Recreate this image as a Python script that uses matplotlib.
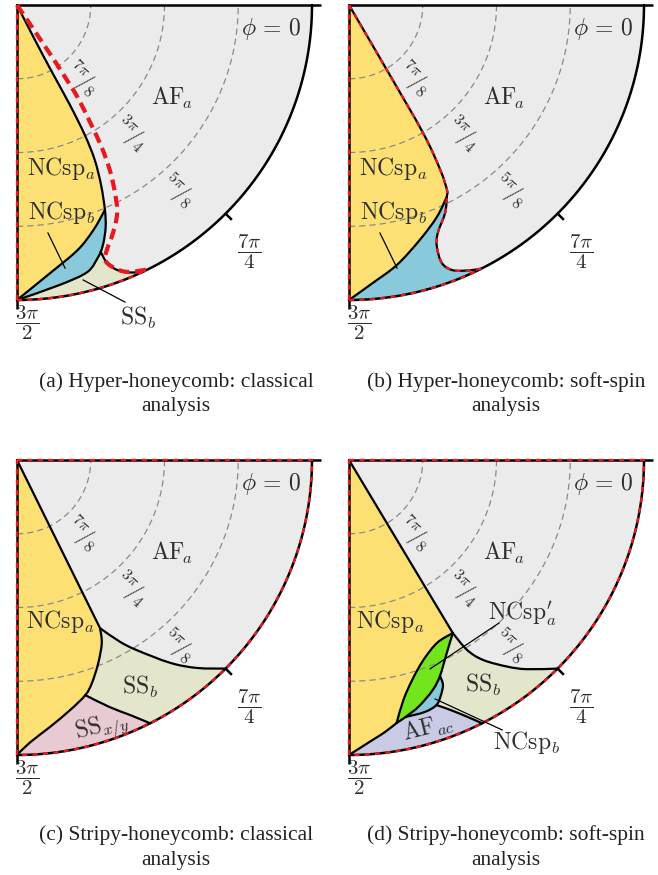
import numpy as np
import matplotlib
matplotlib.use("Agg")
import matplotlib.pyplot as plt
from matplotlib.patches import PathPatch
from matplotlib.path import Path

plt.rcParams['mathtext.fontset'] = 'cm'
plt.rcParams['font.family'] = ['Liberation Serif', 'DejaVu Serif']

# ---------------- data: boundary points as (phi/pi, theta/pi) ----------------
# (a) hyper-honeycomb, classical
a_af = [(1.651, 1.0), (1.651, 0.933), (1.653, 0.872), (1.655, 0.808), (1.653, 0.751),
        (1.648, 0.706), (1.639, 0.663), (1.629, 0.622), (1.621, 0.595), (1.611, 0.571),
        (1.604, 0.558)]
a_t1 = 7                       # NCsp_a / NCsp_b / AF_a triple point
a_ssb_af = [(1.604, 0.558), (1.607, 0.537), (1.615, 0.520), (1.627, 0.508), (1.641, 0.5)]
a_ncspa_ncspb = [(1.5, 0.5), (1.539, 0.542), (1.577, 0.572), (1.604, 0.597), (1.629, 0.622)]
a_ncspb_ssb = [(1.5, 0.5), (1.548, 0.520), (1.582, 0.532), (1.599, 0.551), (1.604, 0.558)]
# soft-spin boundary overlaid (thick red dashes) on the classical panel
a_soft = [(1.690, 1.0), (1.690, 0.942), (1.689, 0.893), (1.687, 0.851), (1.684, 0.807),
          (1.672, 0.727), (1.663, 0.679), (1.653, 0.641), (1.643, 0.609), (1.627, 0.581),
          (1.612, 0.558), (1.606, 0.543), (1.611, 0.528), (1.624, 0.511), (1.646, 0.5)]

# (b) hyper-honeycomb, soft-spin
b_af = [(1.668, 1.0), (1.668, 0.869), (1.667, 0.749), (1.661, 0.681), (1.655, 0.645),
        (1.650, 0.635), (1.638, 0.612), (1.618, 0.585), (1.611, 0.564), (1.610, 0.535),
        (1.619, 0.517), (1.636, 0.506), (1.648, 0.5)]
b_t2 = 5
b_ncspa_ncspb = [(1.5, 0.5), (1.527, 0.527), (1.558, 0.552), (1.593, 0.584), (1.625, 0.611),
                 (1.650, 0.635)]

# (c) stripy-honeycomb, classical
c_ncspa_af = [(1.646, 1.0), (1.646, 0.682)]
c_af_ssb = [(1.646, 0.682), (1.664, 0.646), (1.679, 0.619), (1.706, 0.569), (1.727, 0.534),
            (1.75, 0.5)]
c_ncspa_right = [(1.646, 0.682), (1.638, 0.658), (1.621, 0.629), (1.603, 0.601), (1.590, 0.585),
                 (1.567, 0.567), (1.539, 0.544), (1.514, 0.520), (1.5, 0.5)]
c_j = 4                        # NCsp_a / SS_b / SS_x/y junction
c_ssb_ssxy = [(1.590, 0.585), (1.614, 0.553), (1.633, 0.527), (1.649, 0.5)]

# (d) stripy-honeycomb, soft-spin
d_ncspa_af = [(1.672, 1.0), (1.672, 0.658)]
d_af_ssb = [(1.672, 0.658), (1.677, 0.621), (1.688, 0.592), (1.708, 0.559), (1.724, 0.535),
            (1.75, 0.5)]
d_green_left = [(1.672, 0.658), (1.643, 0.656), (1.613, 0.638), (1.589, 0.612), (1.571, 0.583),
                (1.557, 0.547)]
d_green_right = [(1.672, 0.658), (1.649, 0.633), (1.627, 0.603), (1.611, 0.585), (1.588, 0.566),
                 (1.569, 0.554), (1.557, 0.547)]
d_blue_on_green = 5            # where the NCsp_b pocket closes on the green lens
d_blue_bulge = [(1.627, 0.603), (1.626, 0.587), (1.618, 0.571), (1.609, 0.559), (1.593, 0.554),
                (1.569, 0.554)]
d_bulge_j = 3                  # AF_ac / SS_b / NCsp_b junction
d_afac_ssb = [(1.609, 0.559), (1.617, 0.550), (1.631, 0.531), (1.649, 0.5)]
d_ncspa_afac = [(1.5, 0.5), (1.527, 0.524), (1.542, 0.535), (1.557, 0.547)]

arc_thetas = [7 / 8, 3 / 4, 5 / 8]
arc_labels = [r"${}^{7\pi}\!/_{8}$", r"${}^{3\pi}\!/_{4}$", r"${}^{5\pi}\!/_{8}$"]
tick_phis = [1.5, 1.75, 2.0]
tick_labels = {1.5: r"$\dfrac{3\pi}{2}$", 1.75: r"$\dfrac{7\pi}{4}$"}
captions = ["(a) Hyper-honeycomb: classical", "(b) Hyper-honeycomb: soft-spin",
            "(c) Stripy-honeycomb: classical", "(d) Stripy-honeycomb: soft-spin"]

# colours
C_AF = '#ebebeb'
C_NCA = '#fde074'
C_NCB = '#88cadb'
C_SSB = '#e4e6cb'
C_SSXY = '#e8cad2'
C_GREEN = '#72e61c'
C_AFAC = '#c9cbe5'
C_RED = '#e8191e'
C_TXT = '#2e2e2e'


def to_xy(pts):
    a = np.asarray(pts, float)
    phi = a[:, 0] * np.pi
    rho = 2.0 * (1.0 - a[:, 1])
    return np.column_stack([rho * np.cos(phi), rho * np.sin(phi)])


def arc(p0, p1, theta=0.5, n=120):
    ph = np.linspace(p0, p1, n)
    return list(zip(ph, np.full(n, theta)))


def left_edge():
    return [(1.5, 0.5), (1.5, 1.0)]


def bezier_segments(pts):
    """Cubic Bezier segments (Catmull-Rom tangents) through the read points."""
    P = to_xy(pts)
    n = len(P)
    segs = []
    for i in range(n - 1):
        pm = P[max(i - 1, 0)]
        pp = P[min(i + 2, n - 1)]
        c1 = P[i] + (P[i + 1] - pm) / 6.0
        c2 = P[i + 1] - (pp - P[i]) / 6.0
        segs.append((P[i], c1, c2, P[i + 1]))
    return segs


def C(pts, a=0, b=None, reverse=False):
    return ('c', pts, a, b, reverse)


def L(pts):
    return ('l', pts)


def build_path(pieces, closed=False):
    verts, codes = [], []
    for pc in pieces:
        if pc[0] == 'c':
            _, pts, a, b, reverse = pc
            segs = bezier_segments(pts)[a:(len(pts) - 1 if b is None else b)]
            if reverse:
                segs = [(s[3], s[2], s[1], s[0]) for s in segs[::-1]]
            verts.append(segs[0][0])
            codes.append(Path.LINETO)
            for s in segs:
                verts += [s[1], s[2], s[3]]
                codes += [Path.CURVE4] * 3
        else:
            P = to_xy(pc[1])
            verts += list(P)
            codes += [Path.LINETO] * len(P)
    codes[0] = Path.MOVETO
    if closed:
        verts.append(verts[0])
        codes.append(Path.CLOSEPOLY)
    return Path(np.array(verts), codes)


W, H = 658, 875
R = 295.0
fig = plt.figure(figsize=(W / 100, H / 100), dpi=100)


def make_ax(cx, cy):
    Lp, T, w, h = cx - 17, cy - 5, 324, 345
    ax = fig.add_axes([Lp / W, 1 - (T + h) / H, w / W, h / H])
    ax.set_xlim((Lp - cx) / R, (Lp + w - cx) / R)
    ax.set_ylim(-(T + h - cy) / R, -(T - cy) / R)
    ax.axis('off')
    return ax


def fill(ax, pieces, color, z=1):
    ax.add_patch(PathPatch(build_path(pieces, closed=True), facecolor=color,
                           edgecolor='none', zorder=z))


def stroke(ax, pieces, z=5, color='black', lw=1.6, ls='-', cap='round'):
    ax.add_patch(PathPatch(build_path(pieces), facecolor='none', edgecolor=color, lw=lw,
                           linestyle=ls, zorder=z, capstyle=cap, joinstyle='round'))


def line(ax, pts, smooth=True, **kw):
    stroke(ax, [C(pts) if smooth else L(pts)], **kw)


def red_dash(ax, pieces, lw=1.7, dashes=(2.2, 2.2), z=6):
    stroke(ax, pieces, z=z, color=C_RED, lw=lw, ls=(0, dashes), cap='butt')


def frame(ax, full_red):
    fill(ax, [L([(2.0, 1.0)] + arc(2.0, 1.5) + [(1.5, 1.0)])], C_AF, z=0.5)
    for th, lab in zip(arc_thetas, arc_labels):
        xy = to_xy(arc(1.5, 2.0, th))
        ax.plot(xy[:, 0], xy[:, 1], color='#8a8a8a', lw=0.9, ls=(0, (5, 3.2)), zorder=4)
        rho = 2 * (1 - th) + 0.085
        ang = np.deg2rad(-49)
        ax.text(rho * np.cos(ang), rho * np.sin(ang), lab, fontsize=16, rotation=-42,
                ha='center', va='center', color=C_TXT, zorder=8)
    line(ax, [(2.0, 1.0), (2.0, 0.5)], smooth=False, lw=1.8)
    line(ax, arc(2.0, 1.5), smooth=False, lw=1.8)
    line(ax, left_edge(), smooth=False, lw=1.8)
    for p in tick_phis:
        ph = p * np.pi
        ax.plot([np.cos(ph), 1.03 * np.cos(ph)], [np.sin(ph), 1.03 * np.sin(ph)],
                color='black', lw=1.8, zorder=5, solid_capstyle='butt')
        if p in tick_labels:
            pos = (0.034, -1.078) if p == 1.5 else (0.786, -0.837)
            ax.text(pos[0], pos[1], tick_labels[p], fontsize=15, ha='center', va='center',
                    color=C_TXT, zorder=8)
    ax.text(0.862, -0.08, r"$\phi\,=\,0$", fontsize=17, ha='center', va='center',
            color=C_TXT, zorder=8)
    if full_red:
        red_dash(ax, [L([(1.5, 1.0), (2.0, 1.0), (2.0, 0.5)] + arc(2.0, 1.5) + left_edge())])


def label(ax, x, y, s, rot=0, fs=17):
    ax.text(x, y, s, fontsize=fs, ha='center', va='center', color=C_TXT, zorder=8,
            rotation=rot)


def pointer(ax, p0, p1):
    ax.plot([p0[0], p1[0]], [p0[1], p1[1]], color='black', lw=0.9, zorder=7)


# ---------------- panel (a) ----------------
ax = make_ax(17, 5)
frame(ax, False)
fill(ax, [C(a_af), C(a_ssb_af), L(arc(a_ssb_af[-1][0], 1.5)), L(left_edge())], C_SSB, 1)
fill(ax, [C(a_af), C(a_ncspb_ssb, reverse=True), L(left_edge())], C_NCB, 2)
fill(ax, [C(a_af, 0, a_t1), C(a_ncspa_ncspb, reverse=True), L(left_edge())], C_NCA, 3)
for c in (a_af, a_ssb_af, a_ncspa_ncspb, a_ncspb_ssb):
    line(ax, c)
red_dash(ax, [C(a_soft)], lw=3.0, dashes=(2.6, 1.4))
red_dash(ax, [L(left_edge())])
red_dash(ax, [L(arc(1.5, a_soft[-1][0]))])
label(ax, 0.525, -0.315, r"$\mathrm{AF}_{\!a}$")
label(ax, 0.15, -0.555, r"$\mathrm{NCsp}_a$")
label(ax, 0.15, -0.705, r"$\mathrm{NCsp}_b$")
label(ax, 0.41, -1.061, r"$\mathrm{SS}_b$")
pointer(ax, (0.105, -0.773), (0.163, -0.892))
pointer(ax, (0.224, -0.932), (0.366, -1.007))

# ---------------- panel (b) ----------------
ax = make_ax(349, 5)
frame(ax, False)
fill(ax, [C(b_af), L(arc(b_af[-1][0], 1.5)), L(left_edge())], C_NCB, 1)
fill(ax, [C(b_af, 0, b_t2), C(b_ncspa_ncspb, reverse=True), L(left_edge())], C_NCA, 2)
line(ax, b_af)
line(ax, b_ncspa_ncspb)
red_dash(ax, [C(b_af)])
red_dash(ax, [L(left_edge())])
red_dash(ax, [L(arc(1.5, b_af[-1][0]))])
label(ax, 0.525, -0.315, r"$\mathrm{AF}_{\!a}$")
label(ax, 0.15, -0.555, r"$\mathrm{NCsp}_a$")
label(ax, 0.15, -0.705, r"$\mathrm{NCsp}_b$")
pointer(ax, (0.105, -0.773), (0.163, -0.892))

# ---------------- panel (c) ----------------
ax = make_ax(17, 460)
frame(ax, True)
fill(ax, [L(c_ncspa_af), C(c_af_ssb), L(arc(1.75, 1.5)), L(left_edge())], C_SSB, 1)
fill(ax, [C(c_ssb_ssxy), L(arc(c_ssb_ssxy[-1][0], 1.5)), C(c_ncspa_right, c_j, None, True)],
     C_SSXY, 2)
fill(ax, [L(c_ncspa_af), C(c_ncspa_right), L(left_edge())], C_NCA, 3)
line(ax, c_ncspa_af, smooth=False)
for c in (c_af_ssb, c_ncspa_right, c_ssb_ssxy):
    line(ax, c)
label(ax, 0.525, -0.315, r"$\mathrm{AF}_{\!a}$")
label(ax, 0.146, -0.549, r"$\mathrm{NCsp}_a$")
label(ax, 0.417, -0.77, r"$\mathrm{SS}_b$")
label(ax, 0.29, -0.905, r"$\mathrm{SS}_{x/y}$", rot=14)

# ---------------- panel (d) ----------------
ax = make_ax(349, 460)
frame(ax, True)
fill(ax, [L(d_ncspa_af), C(d_af_ssb), L(arc(1.75, 1.5)), L(left_edge())], C_SSB, 1)
fill(ax, [L(d_ncspa_af), C(d_green_left), C(d_ncspa_afac, reverse=True), L(left_edge())],
     C_NCA, 2)
fill(ax, [C(d_ncspa_afac), C(d_green_right, d_blue_on_green, None, True),
          C(d_blue_bulge, d_bulge_j, None, True), C(d_afac_ssb), L(arc(d_afac_ssb[-1][0], 1.5))],
     C_AFAC, 2.5)
fill(ax, [C(d_blue_bulge), C(d_green_right, 2, d_blue_on_green, True)], C_NCB, 3)
fill(ax, [C(d_green_left), C(d_green_right, reverse=True)], C_GREEN, 3.5)
line(ax, d_ncspa_af, smooth=False)
for c in (d_af_ssb, d_green_left, d_green_right, d_blue_bulge, d_afac_ssb, d_ncspa_afac):
    line(ax, c)
label(ax, 0.525, -0.315, r"$\mathrm{AF}_{\!a}$")
label(ax, 0.14, -0.549, r"$\mathrm{NCsp}_a$")
label(ax, 0.586, -0.519, r"$\mathrm{NCsp}_a^{\prime}$")
label(ax, 0.454, -0.763, r"$\mathrm{SS}_b$")
label(ax, 0.268, -0.908, r"$\mathrm{AF}_{ac}$", rot=14)
label(ax, 0.603, -0.956, r"$\mathrm{NCsp}_b$")
pointer(ax, (0.275, -0.708), (0.508, -0.553))
pointer(ax, (0.292, -0.810), (0.519, -0.915))

# ---------------- captions ----------------
cap_pos = [(176, 382), (506, 382), (176, 835), (506, 835)]
for (cx, cy), cap in zip(cap_pos, captions):
    fig.text(cx / W, 1 - cy / H, cap, fontsize=15.5, ha='center', va='center', color='#222222')
    fig.text(cx / W, 1 - (cy + 25) / H, "analysis", fontsize=15.5, ha='center', va='center',
             color='#222222')

fig.savefig("out.png", dpi=100)
